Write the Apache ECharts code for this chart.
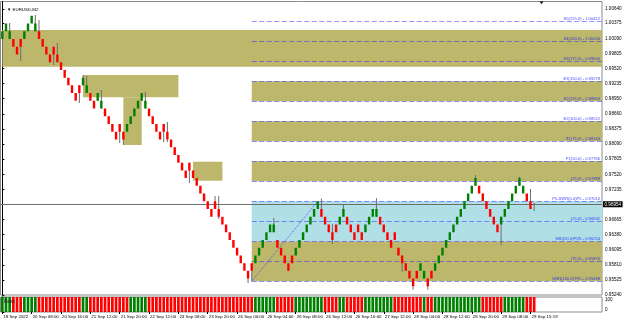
<!DOCTYPE html>
<html><head><meta charset="utf-8">
<script src="https://cdn.jsdelivr.net/npm/echarts@6/dist/echarts.min.js"></script>
<style>html,body{margin:0;padding:0;background:#fff}#c{width:625px;height:323px}</style>
</head><body><div id="c"></div>
<script>
const symbolName = '▼ EURUSD,M2';
const indicatorName = 'Ratio';
const timeLabels = ['18 Sep 2022','20 Sep 08:00','20 Sep 16:00','21 Sep 12:00','21 Sep 20:00','22 Sep 12:00','23 Sep 08:00','23 Sep 20:00','26 Sep 00:00','26 Sep 04:00','26 Sep 08:00','26 Sep 12:00','26 Sep 16:00','27 Sep 12:00','28 Sep 04:00','28 Sep 12:00','28 Sep 20:00','29 Sep 08:00','29 Sep 15:19'];
const opens = [
1.00076,1.00222,1.00076,1.00076,0.99930,1.00076,1.00076,1.00222,1.00368,1.00222,
1.00222,1.00076,0.99930,0.99784,0.99930,0.99784,0.99638,0.99492,0.99346,0.99200,
0.99054,0.99200,0.99200,0.99054,0.99054,0.98908,0.98908,0.98762,0.98762,0.98616,
0.98470,0.98324,0.98470,0.98324,0.98324,0.98470,0.98616,0.98762,0.98908,0.98762,
0.98762,0.98616,0.98470,0.98324,0.98470,0.98324,0.98178,0.98032,0.97886,0.97740,
0.97594,0.97740,0.97594,0.97448,0.97302,0.97156,0.97010,0.96864,0.97010,0.96864,
0.96718,0.96572,0.96426,0.96280,0.96134,0.95988,0.95842,0.95696,0.95842,0.95842,
0.95988,0.96134,0.96280,0.96426,0.96426,0.96280,0.96134,0.95988,0.95842,0.95988,
0.95988,0.96134,0.96280,0.96426,0.96572,0.96718,0.96864,0.96864,0.96718,0.96572,
0.96426,0.96572,0.96572,0.96718,0.96718,0.96572,0.96426,0.96572,0.96426,0.96426,
0.96572,0.96718,0.96718,0.96718,0.96572,0.96426,0.96280,0.96426,0.96134,0.95988,
0.95842,0.95696,0.95550,0.95696,0.95696,0.95550,0.95550,0.95696,0.95696,0.95842,
0.95988,0.96134,0.96280,0.96426,0.96572,0.96718,0.96864,0.97010,0.97156,0.97302,
0.97302,0.97156,0.97010,0.96864,0.96718,0.96572,0.96572,0.96718,0.96864,0.97010,
0.97156,0.97302,0.97156,0.97156,0.97010,0.96954];
const closes = [
1.00222,1.00368,1.00222,0.99930,0.99784,0.99930,1.00222,1.00368,1.00514,1.00368,
1.00076,0.99930,0.99784,0.99638,0.99784,0.99638,0.99492,0.99346,0.99200,0.99054,
0.98908,0.99054,0.99346,0.99200,0.98908,0.98762,0.99054,0.98908,0.98616,0.98470,
0.98324,0.98178,0.98324,0.98178,0.98470,0.98616,0.98762,0.98908,0.99054,0.98908,
0.98616,0.98470,0.98324,0.98178,0.98324,0.98178,0.98032,0.97886,0.97740,0.97594,
0.97448,0.97594,0.97448,0.97302,0.97156,0.97010,0.96864,0.96718,0.96864,0.96718,
0.96572,0.96426,0.96280,0.96134,0.95988,0.95842,0.95696,0.95550,0.95696,0.95988,
0.96134,0.96280,0.96426,0.96572,0.96572,0.96134,0.95988,0.95842,0.95696,0.95842,
0.96134,0.96280,0.96426,0.96572,0.96718,0.96864,0.97010,0.96718,0.96572,0.96426,
0.96280,0.96426,0.96718,0.96864,0.96572,0.96426,0.96280,0.96426,0.96280,0.96572,
0.96718,0.96864,0.96864,0.96572,0.96426,0.96280,0.96134,0.96280,0.95988,0.95842,
0.95696,0.95550,0.95404,0.95550,0.95842,0.95696,0.95404,0.95550,0.95842,0.95988,
0.96134,0.96280,0.96426,0.96572,0.96718,0.96864,0.97010,0.97156,0.97302,0.97448,
0.97156,0.97010,0.96864,0.96718,0.96572,0.96426,0.96718,0.96864,0.97010,0.97156,
0.97302,0.97448,0.97302,0.97010,0.96864,0.96954];
const wickHighs = [[2,1.00378],[9,1.00529],[10,1.00434],[15,1.00000],[22,0.99396],[23,0.99377],[27,0.99112],[39,0.99074],[45,0.98508],[58,0.97110],[59,0.97108],[74,0.96695],[87,0.97059],[90,0.96579],[93,0.96950],[102,0.97070],[129,0.97507],[141,0.97475],[144,0.97242],[145,0.96978]];
const wickLows = [[5,0.99660],[14,0.99584],[21,0.98867],[32,0.98111],[33,0.98073],[44,0.98130],[45,0.98130],[51,0.97356],[59,0.96676],[67,0.95467],[68,0.95504],[90,0.96202],[109,0.95675],[112,0.95340],[116,0.95340],[136,0.96186],[145,0.96827]];
const ratioRuns = [[3,1],[3,0],[4,1],[12,0],[2,1],[11,0],[5,1],[29,0],[6,1],[5,0],[8,1],[4,0],[2,1],[5,0],[8,1],[8,0],[1,1],[2,0],[13,1],[6,0],[6,1],[3,0]];
const ratioFull = 100;
const priceTicks = [0.95240,0.95525,0.95810,0.96095,0.96380,0.96665,0.97235,0.97520,0.97805,0.98090,0.98375,0.98660,0.98950,0.99235,0.99520,0.99805,1.00090,1.00375,1.00640];
const currentPrice = 0.96954;
const fibLevels = [1.00412,1.00034,0.99656,0.99278,0.98900,0.98522,0.98144,0.97766,0.97388,0.97010,0.96632,0.96254,0.95876,0.95498];
const fibLabels = ['S5(225.0) - 1.00412','S4(200.0) - 1.00034','S3(175.0) - 0.99656','E3(150.0) - 0.99278','S2(125.0) - 0.98900','E2(100.0) - 0.98522','S1(75.0) - 0.98144','P1(50.0) - 0.97766','(25.0) - 0.97388','P5-SWR(0.0)P5 - 0.97010','(25.0) - 0.96632','MID(50.0)P5N - 0.96254','(75.0) - 0.95876','GNR(100.0)TP0 - 0.95498'];
const fibStartBar = 68, fibEndBar = 86;
// zones: [startBar, endBar, topPrice, bottomPrice]
const boxZones = [[0,163.5,1.00246,0.99553],[22,48,0.99396,0.98975],[33,38,0.98975,0.98074],[52,60,0.97758,0.97399]];
const fibOliveZones = [[3,4],[5,6],[7,8],[11,13]];
const fibBlueZones = [[9,11]];

const N = opens.length, XMAX = 163.5;
const hiMap = {}, loMap = {};
wickHighs.forEach(([i,p])=>hiMap[i]=p); wickLows.forEach(([i,p])=>loMap[i]=p);
const candleData = opens.map((o,i)=>{const c=closes[i];return [i,o,c,loMap[i]!==undefined?loMap[i]:Math.min(o,c),hiMap[i]!==undefined?hiMap[i]:Math.max(o,c)];});
const histData = []; let k=0;
ratioRuns.forEach(([n,up])=>{for(let j=0;j<n;j++){histData.push({value:[k,ratioFull],itemStyle:{color:up?'#008000':'#ff0000'}});k++;}});
const timeTickVals = timeLabels.map((_,j)=>j*8);

const OLIVE='#BDB76B', BLUE='#B0E0E6', FONT='Liberation Sans';
const areas=[];
boxZones.forEach(z=>areas.push([{coord:[z[0],z[2]],itemStyle:{color:OLIVE}},{coord:[z[1],z[3]]}]));
fibOliveZones.forEach(z=>areas.push([{coord:[fibStartBar,fibLevels[z[0]]],itemStyle:{color:OLIVE}},{coord:[XMAX,fibLevels[z[1]]]}]));
fibBlueZones.forEach(z=>areas.push([{coord:[fibStartBar,fibLevels[z[0]]],itemStyle:{color:BLUE}},{coord:[XMAX,fibLevels[z[1]]]}]));

const fibLines = fibLevels.map((p,j)=>[{coord:[fibStartBar,p],label:{formatter:fibLabels[j]}},{coord:[XMAX,p]}]);

function renderCandle(params, api){
  const i=api.value(0),o=api.value(1),c=api.value(2),lo=api.value(3),hi=api.value(4);
  const pO=api.coord([i,o]),pC=api.coord([i,c]),pL=api.coord([i,lo]),pH=api.coord([i,hi]);
  const x=pO[0], top=Math.min(pO[1],pC[1]), bot=Math.max(pO[1],pC[1]);
  const ch=[];
  if(pL[1]-pH[1]>bot-top+0.5) ch.push({type:'line',shape:{x1:x,y1:pH[1],x2:x,y2:pL[1]},style:{stroke:'#6e6e6e',lineWidth:1}});
  if(bot-top<0.5) ch.push({type:'line',shape:{x1:x-1.2,y1:top,x2:x+1.2,y2:top},style:{stroke:'#6e6e6e',lineWidth:1}});
  else ch.push({type:'rect',shape:{x:x-1.2,y:top,width:2.4,height:bot-top},style:{fill:c>=o?'#008000':'#ff0000'}});
  return {type:'group',children:ch};
}

const chart = echarts.init(document.getElementById('c'),null,{renderer:'canvas'});
chart.setOption({
  animation:false, backgroundColor:'#fff',
  textStyle:{fontFamily:FONT},
  title:[
    {text:symbolName,left:2,top:2.5,textStyle:{fontSize:4.4,fontWeight:'normal',color:'#000',fontFamily:FONT}}
  ],
  grid:[
    {left:0.5,right:23,top:1.5,height:293.5,show:true,borderColor:'#8c8c8c',borderWidth:1,containLabel:false,outerBoundsMode:'none'},
    {left:0.5,right:23,top:297,height:15,show:true,borderColor:'#8c8c8c',borderWidth:1,containLabel:false,outerBoundsMode:'none'}
  ],
  xAxis:[
    {type:'value',gridIndex:0,min:-0.5,max:XMAX,show:false},
    {type:'value',gridIndex:1,min:-0.5,max:XMAX,axisLine:{show:false},splitLine:{show:false},
     axisTick:{show:true,customValues:timeTickVals,length:2,lineStyle:{color:'#000'}},
     axisLabel:{customValues:timeTickVals,formatter:v=>timeLabels[Math.round(v/8)],align:'left',fontSize:4.4,color:'#000',margin:2.5,padding:[0,0,0,1],fontFamily:FONT,showMinLabel:true,showMaxLabel:true,hideOverlap:false}}
  ],
  yAxis:[
    {type:'value',gridIndex:0,position:'right',min:0.95240,max:1.00784,splitLine:{show:false},
     axisLine:{show:true,lineStyle:{color:'#000'}},
     axisTick:{show:true,customValues:priceTicks,length:2,lineStyle:{color:'#000'}},
     axisLabel:{customValues:priceTicks,formatter:v=>v.toFixed(5),fontSize:4.6,color:'#000',margin:3,fontFamily:FONT,showMinLabel:true,showMaxLabel:true,hideOverlap:false}},
    {type:'value',gridIndex:1,position:'right',min:0,max:100,splitLine:{show:false},
     axisLine:{show:true,lineStyle:{color:'#000'}},
     axisTick:{show:true,customValues:[0,100],length:2,lineStyle:{color:'#000'}},
     axisLabel:{customValues:[0,100],fontSize:4.6,color:'#000',margin:3,verticalAlignMinLabel:'bottom',verticalAlignMaxLabel:'top',fontFamily:FONT,showMinLabel:true,showMaxLabel:true}}
  ],
  series:[
    {type:'line',xAxisIndex:0,yAxisIndex:0,data:[],z:1,silent:true,
     markArea:{silent:true,itemStyle:{opacity:1},data:areas}},
    {type:'line',xAxisIndex:0,yAxisIndex:0,data:[],z:2,silent:true,
     markLine:{silent:true,symbol:['none','none'],
       lineStyle:{color:'rgba(40,40,255,0.5)',type:[5,2.5],width:1},
       label:{show:true,position:'insideEndTop',distance:[2,0.5],fontSize:4.1,color:'rgba(20,20,255,0.8)',fontFamily:FONT},
       data:fibLines.concat([
         [{coord:[fibStartBar,fibLevels[13]],lineStyle:{type:'dotted',color:'#4a5cf0',width:1},label:{show:false}},{coord:[fibEndBar,fibLevels[9]]}],
         [{coord:[-0.5,currentPrice],lineStyle:{type:'solid',color:'#6f6f6f',width:1},
           label:{show:true,position:'end',formatter:currentPrice.toFixed(5),distance:1,backgroundColor:'#000',color:'#fff',padding:[0.5,1.5],fontSize:4.6}},{coord:[XMAX,currentPrice]}]
       ])}},
    {type:'custom',xAxisIndex:0,yAxisIndex:0,z:5,renderItem:renderCandle,data:candleData,encode:{x:0,y:[1,2,3,4]},clip:true},
    {type:'bar',xAxisIndex:1,yAxisIndex:1,barWidth:2.7,data:histData,silent:true}
  ],
  graphic:[
    {type:'polygon',shape:{points:[[539.5,1.5],[543.5,1.5],[541.5,4]]},style:{fill:'#000'},z:10},
    {type:'text',left:4,top:299.5,z:100,style:{text:indicatorName,fontSize:4.6,fill:'#1a1a1a',fontFamily:FONT}}
  ]
});
</script></body></html>
